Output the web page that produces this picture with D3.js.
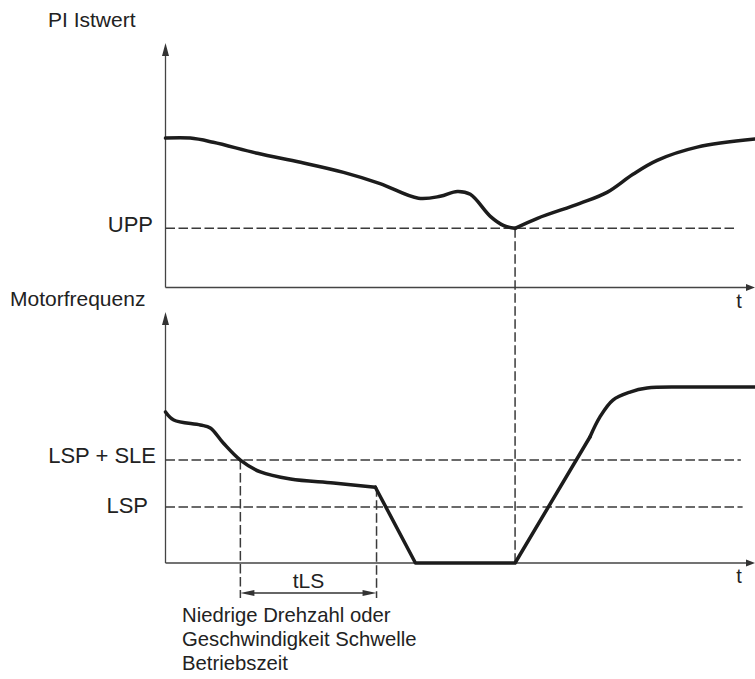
<!DOCTYPE html>
<html><head><meta charset="utf-8">
<script src="https://cdn.jsdelivr.net/npm/d3@7"></script>
<style>
body{margin:0;background:#fff}
text{font-family:"Liberation Sans",Arial,Helvetica,sans-serif;fill:#222}
</style>
</head><body>
<svg id="c" width="755" height="679"></svg>
<script>
// ---- data (time 0..100, values 0..100) ----
const piTime  = [0, 4.2, 8.1, 15.6, 22.9, 30.2, 36.4, 42.9, 46.6, 49.5, 51.7, 55.1, 57.3, 59.3, 63.1, 70.3, 74.9, 79.3, 83.4, 90.2, 100];
const piValue = [61.1, 61.1, 59.4, 54.9, 51.2, 47.1, 42.5, 36.5, 37.3, 39.3, 38.1, 29.1, 25.4, 24.2, 28.3, 34.4, 38.9, 46.3, 52.0, 57.4, 60.7];

const motorTime  = [0, 1.4, 5.9, 7.6, 9.8, 12.7, 16.1, 21.2, 28.5, 35.6, 42.4, 59.3, 72.0, 73.7, 75.9, 78.8, 81.7, 87.3, 92.9, 100];
const motorValue = [60.2, 57.0, 55.0, 53.8, 47.8, 41.0, 36.3, 33.5, 31.9, 30.2, 0, 0, 50.2, 58.2, 64.9, 68.1, 69.7, 70.1, 70.1, 70.1];
const motorLinearFrom = 35.6, motorLinearTo = 72.0;

const levelUPP = 24.2, levelLSPSLE = 41.0, levelLSP = 22.3;
const tLSStart = 12.7, tLSEnd = 35.8, tWake = 59.3;

const titles = ["PI Istwert", "Motorfrequenz"];
const levelLabels = ["UPP", "LSP + SLE", "LSP"];
const axisLabel = "t";
const spanLabel = "tLS";
const caption = ["Niedrige Drehzahl oder", "Geschwindigkeit Schwelle", "Betriebszeit"];

// ---- drawing ----
const svg = d3.select("#c");
const x = d3.scaleLinear().domain([0, 100]).range([165.5, 755]);
const yTop = d3.scaleLinear().domain([0, 100]).range([287.5, 43]);
const yBot = d3.scaleLinear().domain([0, 100]).range([563, 312]);

const axisCol = "#444", dashCol = "#3a3a3a", curveCol = "#1c1c1c";
const dash = "9.5,3.5";

function arrowHead(tipX, tipY, dir, len, half) {
  let pts;
  if (dir === "up") pts = [[tipX, tipY], [tipX - half, tipY + len], [tipX + half, tipY + len]];
  else if (dir === "right") pts = [[tipX, tipY], [tipX - len, tipY - half], [tipX - len, tipY + half]];
  else pts = [[tipX, tipY], [tipX + len, tipY - half], [tipX + len, tipY + half]];
  svg.append("path").attr("d", "M" + pts.map(p => p.join(",")).join("L") + "Z").attr("fill", "#333");
}

function panelAxes(y) {
  const x0 = x(0), y0 = y(0);
  const yTip = y.range()[1], xTip = x.range()[1];
  svg.append("line").attr("x1", x0).attr("y1", y0).attr("x2", x0).attr("y2", yTip + 8)
    .attr("stroke", axisCol).attr("stroke-width", 1.3);
  svg.append("line").attr("x1", x0).attr("y1", y0).attr("x2", xTip - 6).attr("y2", y0)
    .attr("stroke", axisCol).attr("stroke-width", 1.3);
  arrowHead(x0, yTip, "up", 13, 3.5);
  arrowHead(xTip, y0, "right", 9, 3.5);
}
panelAxes(yTop);
panelAxes(yBot);

function hDash(y, v, tEnd) {
  svg.append("line").attr("x1", x(0)).attr("x2", x(tEnd)).attr("y1", y(v)).attr("y2", y(v))
    .attr("stroke", dashCol).attr("stroke-width", 1.5).attr("stroke-dasharray", dash);
}
hDash(yTop, levelUPP, 96.9);
hDash(yBot, levelLSPSLE, 97.6);
hDash(yBot, levelLSP, 97.9);

function vDash(t, y1, y2) {
  svg.append("line").attr("x1", x(t)).attr("x2", x(t)).attr("y1", y1).attr("y2", y2)
    .attr("stroke", dashCol).attr("stroke-width", 1.5).attr("stroke-dasharray", dash);
}
vDash(tWake, yTop(levelUPP), yBot(0));
vDash(tLSStart, yBot(levelLSPSLE), 598);
vDash(tLSEnd, yBot(motorValue[9]), 598);

const piPts = piTime.map((t, i) => [t, piValue[i]]);
const cusp = d3.minIndex(piValue);
const lineTop = d3.line().x(d => x(d[0])).y(d => yTop(d[1])).curve(d3.curveCatmullRom.alpha(0.5));
[piPts.slice(0, cusp + 1), piPts.slice(cusp)].forEach(seg => {
  svg.append("path").attr("d", lineTop(seg)).attr("fill", "none")
    .attr("stroke", curveCol).attr("stroke-width", 3.5).attr("stroke-linecap", "round");
});

const mPts = motorTime.map((t, i) => [t, motorValue[i]]);
const smooth = d3.line().x(d => x(d[0])).y(d => yBot(d[1])).curve(d3.curveCatmullRom.alpha(0.5));
const straight = d3.line().x(d => x(d[0])).y(d => yBot(d[1]));
const segA = mPts.filter(d => d[0] <= motorLinearFrom);
const segB = mPts.filter(d => d[0] >= motorLinearFrom && d[0] <= motorLinearTo);
const segC = mPts.filter(d => d[0] >= motorLinearTo);
[[segA, smooth], [segB, straight], [segC, smooth]].forEach(([seg, gen]) => {
  svg.append("path").attr("d", gen(seg)).attr("fill", "none")
    .attr("stroke", curveCol).attr("stroke-width", 3.5)
    .attr("stroke-linejoin", "round").attr("stroke-linecap", "round");
});

const spanY = 593;
svg.append("line").attr("x1", x(tLSStart) + 6).attr("x2", x(tLSEnd) - 6).attr("y1", spanY).attr("y2", spanY)
  .attr("stroke", "#333").attr("stroke-width", 1.3);
arrowHead(x(tLSStart), spanY, "left", 14, 3);
arrowHead(x(tLSEnd), spanY, "right", 14, 3);

svg.append("text").attr("x", 48).attr("y", 27).attr("font-size", 21).text(titles[0]);
svg.append("text").attr("x", 10).attr("y", 306).attr("font-size", 21).text(titles[1]);

svg.append("text").attr("x", 153).attr("y", yTop(levelUPP) + 4).attr("text-anchor", "end").attr("font-size", 22).text(levelLabels[0]);
svg.append("text").attr("x", 156).attr("y", yBot(levelLSPSLE) + 3).attr("text-anchor", "end").attr("font-size", 22).text(levelLabels[1]);
svg.append("text").attr("x", 148).attr("y", yBot(levelLSP) + 6).attr("text-anchor", "end").attr("font-size", 22).text(levelLabels[2]);

svg.append("text").attr("x", 739).attr("y", 308).attr("text-anchor", "middle").attr("font-size", 20).text(axisLabel);
svg.append("text").attr("x", 739).attr("y", 583).attr("text-anchor", "middle").attr("font-size", 20).text(axisLabel);

svg.append("text").attr("x", (x(tLSStart) + x(tLSEnd)) / 2).attr("y", 588).attr("text-anchor", "middle").attr("font-size", 21).text(spanLabel);

caption.forEach((c, i) => {
  svg.append("text").attr("x", 182).attr("y", 622 + i * 24).attr("font-size", 20.3).text(c);
});
</script>
</body></html>
